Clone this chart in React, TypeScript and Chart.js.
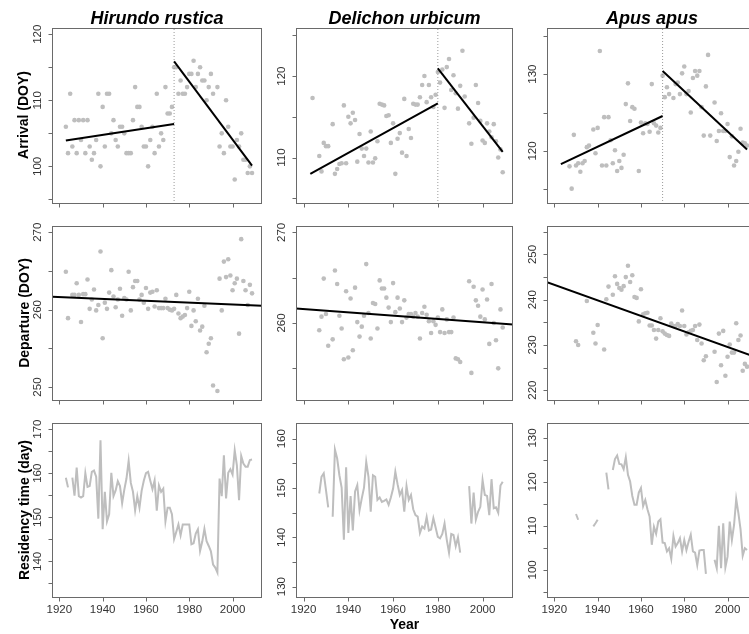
import React, { useEffect, useRef } from 'react';
import { Chart, registerables } from 'chart.js';

Chart.register(...registerables);

// ---------------- data ----------------
const YEARS = [
  1922, 1923, 1924, 1925, 1926, 1927, 1928, 1929,
  1930, 1931, 1932, 1933, 1934, 1935, 1936, 1937, 1938, 1939,
  1940, 1941, 1942, 1943, 1944, 1945, 1946, 1947, 1948, 1949,
  1950, 1951, 1952, 1953, 1954, 1955, 1956, 1957, 1958, 1959,
  1960, 1961, 1962, 1963, 1964, 1965, 1966, 1967, 1968, 1969,
  1970, 1971, 1972, 1973, 1974, 1975, 1976, 1977, 1978, 1979,
  1980, 1981, 1982, 1983, 1984, 1985, 1986, 1987, 1988, 1989,
  1990, 1991, 1992, 1993, 1994, 1995, 1996, 1997, 1998, 1999,
  2000, 2001, 2002, 2003, 2004, 2005, 2006, 2007, 2008, 2009,
  2010,
];

const SPECIES = ['Hirundo rustica', 'Delichon urbicum', 'Apus apus'];
const ROW_TITLES = ['Arrival (DOY)', 'Departure (DOY)', 'Residency time (day)'];
const X_TITLE = 'Year';

// Hirundo rustica
const hrArrival = [
  null, 106, 102, 111, 103, 107, 102, 107,
  104, 107, 102, 107, 103, 101, 102, 104, 111, 100,
  109, 103, 111, 111, 105, 107, 104, 103, 106, 106,
  105, 102, 102, 102, 107, 112, 109, 109, 106, 103,
  103, 100, 104, 106, 102, 111, 103, 105, 104, 112,
  108, 108, 109, 115, 115, 111, 113, 111, 111, 112,
  114, 114, 116, 112, 114, 115, 113, 113, 110, 112,
  114, 111, null, 112, 103, 105, 102, 110, 106, 103,
  103, 98, 104, 103, 105, 101, 101, 99, 100, 99,
  null,
];
const hrDeparture = [
  null, 264.9, 258.9, null, 261.9, 261.9, 263.4, 261.9,
  258.4, 262, 262, 263.9, 260.1, 261.3, 262.6, 259.9, 260.6, 267.5,
  256.3, 260.9, 260.1, 262.2, 265.1, 261.7, 260.3, 261.3, 262.7, 259.2,
  261.5, 261.3, 264.9, 259.9, 262.9, 263.7, 263.7, 261.3, 261.9, 260.9,
  262.8, 260.1, 262.2, 262.3, 260.4, 262.5, 260.2, 260.2, 260.2, 261.4,
  260.2, 260, 259.9, 260.1, 261.9, 259.5, 258.9, 259.1, 259.3, 260.2,
  262.3, 257.9, 259.9, 258.5, 261.4, 257.3, 257.8, 260.5, 254.5, 255.6,
  256.3, 250.2, null, 249.5, 264, 259.9, 266.2, 264.2, 266.5, 264.4,
  262.5, 263.4, 264, 256.9, 269.1, 263.7, 262.5, 260.6, 263.2, 262.1,
  null,
];
const hrResidency = [
  null, 159, 156.8, null, 159, 154.9, 161.3, 154.8,
  154.5, 154.8, 160, 156.9, 157.1, 160.3, 160.6, 159.2, 149.7, 167.5,
  147.3, 155.8, 149.1, 150.7, 160.1, 154.8, 156.1, 158.2, 157.1, 153.2,
  156.3, 158.8, 162.8, 157.8, 155.8, 151.6, 154.8, 152.2, 156, 158.3,
  160, 160.3, 158.3, 156.4, 158.4, 151.5, 157.2, 155.8, 156.5, 149.1,
  152.2, 152.2, 150.7, 145.1, 146.7, 148.4, 145.9, 148.4, 148.4, 148.4,
  148.4, 143.9, 144.1, 146.3, 147.3, 142.4, 144.5, 147.4, 144.6, 143.5,
  142.3, 139.3, 138.6, 137.5, 158.8, 154.8, 164.1, 154.3, 160.1, 160.9,
  159.7, 165.2, 161.8, 153.9, 163.9, 162.2, 161.5, 161.5, 163, 163.1,
  null,
];

// Delichon urbicum
const duArrival = [
  null, null, 117.3, null, null, 110.2, 108.3, 111.8,
  111.4, 111.4, null, 114.1, 108, 108.6, 109.2, 109.3, 116.4, 109.3,
  115, 114.2, 115.5, 114.6, 109.5, 112.9, 111.1, 110.2, 111.1, 109.4,
  113.2, 109.4, 109.9, 112, 116.6, 116.5, 116.4, 115.1, 115.2, 111.8,
  114.2, 108, 112.3, 113, 110.6, 117.2, 110.2, 113.5, 112.4, 116.6,
  116.5, 116.5, 117.4, 118.9, 120, 116.8, 118.9, 117.4, 116.2, 117.7,
  120.5, 119.2, 120.8, 116.1, 121.1, 122.1, 118.3, 120.1, 117.9, 116,
  118.8, 123.1, 117.5, null, 114.2, 111.7, 114.9, 118.9, 116.7, 114.5,
  112.1, 111.8, 114.2, 113.2, 112.5, 114.1, 112, 110, 111, 108.2,
  null,
];
const duDeparture = [
  null, null, null, null, null, 259.2, 260.7, 264.9,
  261, 257.5, null, 258.2, 265.8, 264.3, 260.8, 259.4, 256, 263.5,
  256.2, 262.7, 257, 263.9, 260.1, 258.5, 259.6, 260.8, 266.5, 261.1,
  258.3, 262.2, 262.1, 259.4, 264.7, 263.8, 263.8, 262.8, 261.7, 260.1,
  264.4, 261.2, 262.8, 261.6, 260.1, 262.5, 260.6, 261, 261, 260.7,
  261.1, 260.7, 258.3, 261.1, 261.8, 260.9, 260.2, 258.9, 260.2, 259.8,
  260.6, 259, 261.5, 258.9, 260.4, 259, 259, 260.6, 256.1, 256,
  255.7, null, null, null, 264.6, 254.5, 264, 262.5, 261.9, 260.7,
  263.7, 260.4, 262.6, 257.7, 264.3, 260, 258.1, 255, 261.5, 259.5,
  null,
];
const duResidency = [
  null, null, null, null, null, 148.9, 152.3, 153,
  149.6, 146.1, null, 144.2, 157.8, 156, 152.6, 150.1, 139.5, 154.2,
  140.9, 148.4, 141.4, 149.3, 150.6, 145.5, 147.9, 150.1, 155.3, 152.3,
  145.2, 152.6, 152.3, 147.6, 148.1, 147.2, 147.4, 147.7, 146.6, 148.1,
  149.9, 153.3, 150.8, 148.6, 149.6, 145.2, 150.4, 147.6, 148.6, 145.7,
  144.5, 144.2, 140.9, 142.2, 141.8, 144.1, 141.4, 141.6, 143.9, 142,
  140.1, 139.8, 140.7, 142.8, 139.5, 136.9, 140.7, 140.5, 138.2, 140,
  136.9, null, null, null, 150.4, 142.8, 149.1, 143.6, 145.2, 146.2,
  151.6, 148.6, 148.4, 144.5, 151.8, 145.9, 146.1, 145, 150.5, 151.3,
  null,
];

// Apus apus
const aaArrival = [
  null, null, null, null, null, 118, 115.1, 122.1,
  118.1, 118.4, 117.3, 118.4, 118.7, 120.5, 120.7, null, 122.8, 119.7,
  123, 133, 118.1, 124.4, 118.1, 124.4, 121.4, 118.4, 120.1, 117.4,
  118.7, 117.8, 119.5, 126.1, 128.8, 123.9, 125.7, 125.5, null, 117.4,
  123.7, 122.3, 123.6, 123.5, 122.5, 128.7, 123.6, 123.3, 122.4, 123,
  129.8, 127, 128.3, 127.4, null, 126.9, 128.7, 128.9, 127.4, 130.1,
  131, 127.4, 127.8, 125, 129.5, 130.4, 129.8, 130.4, 125.7, 122,
  128.4, 132.5, 122, null, 126.3, 121.3, 122.6, 124.9, 122.6, 122.6,
  123.5, 119.2, 121.9, 118.1, 118.7, 119.9, 122.9, 121.1, 121, 120.7,
  null,
];
const aaDeparture = [
  null, null, null, null, null, null, null, null,
  230.8, 230, null, null, null, 239.7, null, null, 232.7, 230.3,
  234.4, null, null, 229, 240.1, 242.9, null, 241.1, 245.2, 243.5,
  242.6, 242.2, 243, 245, 247.5, 243.9, 245.4, 240.6, 240.4, 235.2,
  242.3, 236.8, 237, 237.1, 234.3, 234.3, 233.3, 231.4, 233.3, 235.9,
  233, 232.5, 232.2, 232, 234.7, 234.2, 234.2, 234.6, 234.2, 237.6,
  234.2, 232.3, 232.8, 233.1, 233.3, 234.2, 231.1, 234.5, 230.3, 226.6,
  227.5, null, null, null, 228.5, 221.8, 232.5, 225.5, 233.1, 223.2,
  227.4, 230.1, 228.3, 228.3, 234.8, 231.1, 232.1, 224.3, 225.8, 225.2,
  null,
];
const aaResidency = [
  null, null, null, null, null, null, null, null,
  112.7, 111.4, null, null, null, null, null, null, 109.9, 110.6,
  111.4, null, null, null, 122.1, 118.3, null, 122.7, 125.2, 126,
  124.1, 124, 122.9, 125.6, 121.6, 120.1, 116.8, 114.8, 114.8, 117.6,
  118.6, 114.5, 115.9, 113.8, 112.1, 105.7, 109.8, 108.2, 111, 111.5,
  106.2, 106.1, 104.2, 104.9, 102.5, 107.7, 105.3, 106.1, 107.2, 104.2,
  106.8, 104.5, 106.4, 108, 104.2, 103.9, 101.1, 104.4, 104.5, 104.5,
  99.1, null, null, null, 102.3, 100.4, 110, 100.4, 110.6, 100.6,
  103, 111, 106.8, 110.2, 116.1, 112.9, 109.2, 103.2, 104.9, 104.5,
  null,
];

// fitted segments (year pairs and values)
const hrArrFitLeftYears = [1923, 1973];
const hrArrFitLeft = [103.9, 106.4];
const hrArrFitRightYears = [1973, 2009];
const hrArrFitRight = [115.9, 100.1];
const duArrFitLeftYears = [1923, 1980];
const duArrFitLeft = [108.0, 116.65];
const duArrFitRightYears = [1980, 2009];
const duArrFitRight = [120.95, 110.7];
const aaArrFitLeftYears = [1923, 1970];
const aaArrFitLeft = [118.3, 124.55];
const aaArrFitRightYears = [1970, 2009];
const aaArrFitRight = [130.4, 120.2];
const BREAK_YEARS = [1973, 1980, 1970];

const depFitYears = [1916.6, 2013.6];
const hrDepFit = [261.65, 260.5];
const duDepFit = [261.6, 259.85];
const aaDepFit = [243.85, 227.2];

// axes
const X_RANGE = [1916.6, 2013.6];
const X_TICKS = [1920, 1940, 1960, 1980, 2000];
const Y_RANGES = [
  [[94.3, 120.95], [104.3, 125.9], [113.1, 136.0]],
  [[248.2, 270.8], [251.4, 270.7], [217.6, 256.3]],
  [[131.7, 171.4], [127.7, 163.2], [93.6, 133.4]],
];
const Y_TICKS = [
  [[95, 100, 105, 110, 115, 120], [105, 110, 115, 120, 125], [115, 120, 125, 130, 135]],
  [[250, 255, 260, 265, 270], [255, 260, 265, 270], [220, 225, 230, 235, 240, 245, 250, 255]],
  [[135, 140, 145, 150, 155, 160, 165, 170], [130, 135, 140, 145, 150, 155, 160], [95, 100, 105, 110, 115, 120, 125, 130]],
];
const Y_LABELS = [
  [[100, 110, 120], [110, 120], [120, 130]],
  [[250, 260, 270], [260, 270], [220, 230, 240, 250]],
  [[140, 150, 160, 170], [130, 140, 150, 160], [100, 110, 120, 130]],
];

// ---------------- layout / style ----------------
const COLS = [
  { left: 52, width: 210 },
  { left: 296, width: 217 },
  { left: 547, width: 210 },
];
const ROWS = [
  { top: 28, height: 176 },
  { top: 226, height: 175 },
  { top: 423, height: 175 },
];
const PAD_L = 30, PAD_R = 4, PAD_T = 4;
const FONT = '"Liberation Sans", Arial, Helvetica, sans-serif';
const GREY = '#bebebe';
const BOX = '#6a6a6a';
const TICK_TXT = '#333333';

const rAxes = {
  id: 'rAxes',
  afterDraw(chart: any, _args: any, opts: any) {
    const { ctx, chartArea: a, scales } = chart;
    const xs = scales.x, ys = scales.y;
    ctx.save();
    ctx.strokeStyle = BOX;
    ctx.lineWidth = 1;
    const l = Math.round(a.left) + 0.5, t = Math.round(a.top) + 0.5;
    const r = Math.round(a.right) - 0.5, b = Math.round(a.bottom) - 0.5;
    ctx.strokeRect(l, t, r - l, b - t);
    ctx.beginPath();
    for (const v of opts.yTicks) {
      const py = Math.round(ys.getPixelForValue(v)) + 0.5;
      ctx.moveTo(l - 4, py);
      ctx.lineTo(l, py);
    }
    for (const v of opts.xTicks) {
      const px = Math.round(xs.getPixelForValue(v)) + 0.5;
      ctx.moveTo(px, b);
      ctx.lineTo(px, b + 4);
    }
    ctx.stroke();
    ctx.fillStyle = TICK_TXT;
    ctx.font = '11.5px ' + FONT;
    ctx.textAlign = 'center';
    ctx.textBaseline = 'middle';
    for (const v of opts.yLabels) {
      const py = ys.getPixelForValue(v);
      ctx.save();
      ctx.translate(a.left - 14, py);
      ctx.rotate(-Math.PI / 2);
      ctx.fillText(String(v), 0, 0);
      ctx.restore();
    }
    if (opts.xLabels) {
      for (const v of opts.xLabels) {
        ctx.fillText(String(v), xs.getPixelForValue(v), a.bottom + 12);
      }
    }
    ctx.restore();
  },
};

type PanelSpec = {
  row: number;
  col: number;
  values: (number | null)[];
  kind: 'points' | 'line';
  fits: { years: number[]; values: number[] }[];
  breakYear?: number;
};

const SPECS: PanelSpec[] = [
  { row: 0, col: 0, values: hrArrival, kind: 'points', breakYear: BREAK_YEARS[0],
    fits: [{ years: hrArrFitLeftYears, values: hrArrFitLeft }, { years: hrArrFitRightYears, values: hrArrFitRight }] },
  { row: 0, col: 1, values: duArrival, kind: 'points', breakYear: BREAK_YEARS[1],
    fits: [{ years: duArrFitLeftYears, values: duArrFitLeft }, { years: duArrFitRightYears, values: duArrFitRight }] },
  { row: 0, col: 2, values: aaArrival, kind: 'points', breakYear: BREAK_YEARS[2],
    fits: [{ years: aaArrFitLeftYears, values: aaArrFitLeft }, { years: aaArrFitRightYears, values: aaArrFitRight }] },
  { row: 1, col: 0, values: hrDeparture, kind: 'points', fits: [{ years: depFitYears, values: hrDepFit }] },
  { row: 1, col: 1, values: duDeparture, kind: 'points', fits: [{ years: depFitYears, values: duDepFit }] },
  { row: 1, col: 2, values: aaDeparture, kind: 'points', fits: [{ years: depFitYears, values: aaDepFit }] },
  { row: 2, col: 0, values: hrResidency, kind: 'line', fits: [] },
  { row: 2, col: 1, values: duResidency, kind: 'line', fits: [] },
  { row: 2, col: 2, values: aaResidency, kind: 'line', fits: [] },
];

function Panel({ spec }: { spec: PanelSpec }) {
  const ref = useRef<HTMLCanvasElement>(null);
  const col = COLS[spec.col];
  const row = ROWS[spec.row];
  const padB = spec.row === 2 ? 24 : 8;
  const w = col.width + PAD_L + PAD_R;
  const h = row.height + PAD_T + padB;

  useEffect(() => {
    const [yMin, yMax] = Y_RANGES[spec.row][spec.col];
    const datasets: any[] = [];
    for (const f of spec.fits) {
      datasets.push({
        data: f.years.map((yr, i) => ({ x: yr, y: f.values[i] })),
        showLine: true,
        borderColor: '#000000',
        borderWidth: 2,
        pointRadius: 0,
        fill: false,
      });
    }
    if (spec.breakYear !== undefined) {
      datasets.push({
        data: [{ x: spec.breakYear, y: yMin }, { x: spec.breakYear, y: yMax }],
        showLine: true,
        borderColor: '#9a9a9a',
        borderWidth: 1,
        borderDash: [1, 2],
        pointRadius: 0,
        fill: false,
      });
    }
    const pts = YEARS.map((yr, i) => ({ x: yr, y: spec.values[i] }));
    if (spec.kind === 'points') {
      datasets.push({
        data: pts.filter((p) => p.y !== null),
        pointRadius: 2.3,
        pointBackgroundColor: GREY,
        pointBorderWidth: 0,
        showLine: false,
      });
    } else {
      datasets.push({
        data: pts,
        showLine: true,
        spanGaps: false,
        borderColor: GREY,
        borderWidth: 2,
        pointRadius: 0,
        fill: false,
        tension: 0,
      });
    }
    const chart = new Chart(ref.current as HTMLCanvasElement, {
      type: 'scatter',
      data: { datasets },
      options: {
        animation: false,
        responsive: false,
        maintainAspectRatio: false,
        events: [],
        layout: { padding: { left: PAD_L, right: PAD_R, top: PAD_T, bottom: padB } },
        scales: {
          x: { type: 'linear', min: X_RANGE[0], max: X_RANGE[1], display: false },
          y: { type: 'linear', min: yMin, max: yMax, display: false },
        },
        plugins: {
          legend: { display: false },
          tooltip: { enabled: false },
          rAxes: {
            yTicks: Y_TICKS[spec.row][spec.col],
            yLabels: Y_LABELS[spec.row][spec.col],
            xTicks: X_TICKS,
            xLabels: spec.row === 2 ? X_TICKS : null,
          },
        } as any,
      },
      plugins: [rAxes],
    } as any);
    return () => chart.destroy();
  }, []);

  return (
    <canvas
      ref={ref}
      width={w}
      height={h}
      style={{ position: 'absolute', left: col.left - PAD_L, top: row.top - PAD_T, width: w, height: h }}
    />
  );
}

export default function App() {
  return (
    <div
      style={{
        position: 'absolute',
        left: 0,
        top: 0,
        width: 749,
        height: 634,
        overflow: 'hidden',
        background: '#ffffff',
      }}
    >
      {SPECS.map((s) => (
        <Panel key={s.row + '-' + s.col} spec={s} />
      ))}
      {SPECIES.map((name, i) => (
        <div
          key={name}
          style={{
            position: 'absolute',
            left: COLS[i].left,
            width: COLS[i].width,
            top: 8,
            lineHeight: '22px',
            textAlign: 'center',
            font: 'italic bold 18px ' + FONT,
            color: '#000',
            whiteSpace: 'nowrap',
          }}
        >
          {name}
        </div>
      ))}
      {ROW_TITLES.map((t, i) => (
        <div
          key={t}
          style={{
            position: 'absolute',
            left: 23 - ROWS[i].height / 2,
            top: ROWS[i].top + ROWS[i].height / 2 - 9,
            width: ROWS[i].height,
            lineHeight: '18px',
            textAlign: 'center',
            transform: 'rotate(-90deg)',
            font: 'bold 14px ' + FONT,
            color: '#000',
            whiteSpace: 'nowrap',
          }}
        >
          {t}
        </div>
      ))}
      <div
        style={{
          position: 'absolute',
          left: COLS[1].left,
          width: COLS[1].width,
          top: 616,
          lineHeight: '18px',
          textAlign: 'center',
          font: 'bold 14px ' + FONT,
          color: '#000',
        }}
      >
        {X_TITLE}
      </div>
    </div>
  );
}
